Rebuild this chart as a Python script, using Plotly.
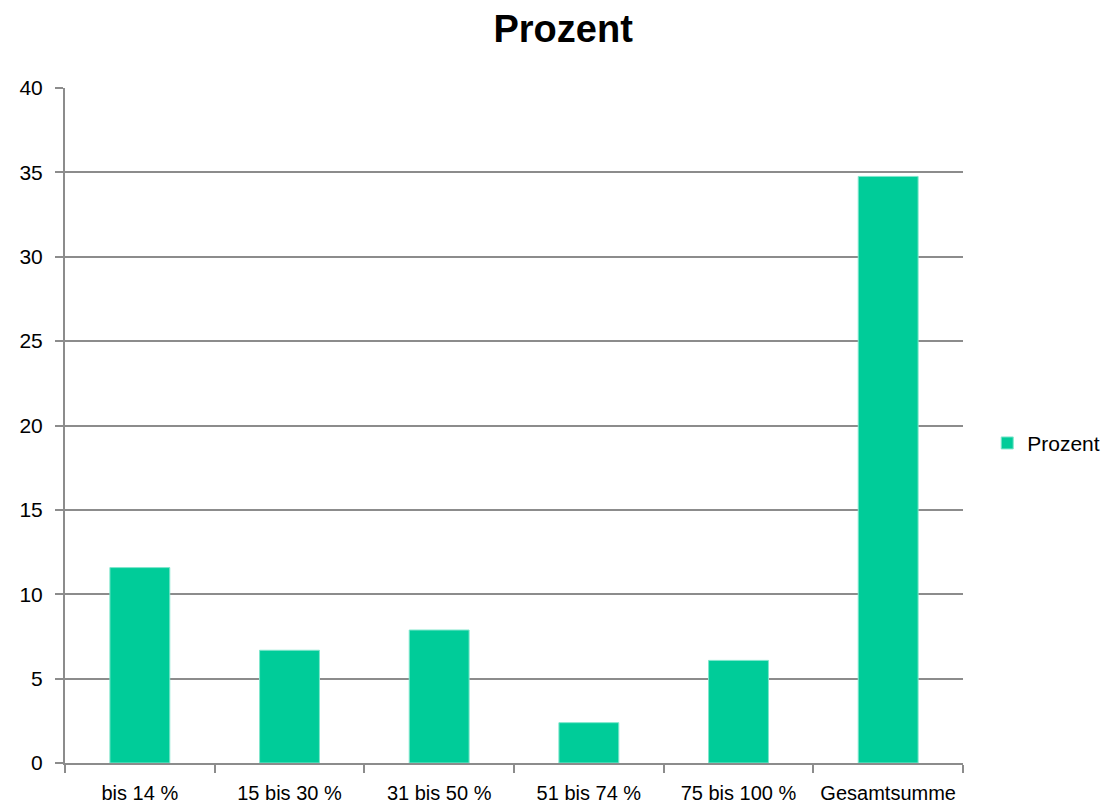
import plotly.graph_objects as go

categories = ["bis 14 %", "15 bis 30 %", "31 bis 50 %", "51 bis 74 %", "75 bis 100 %", "Gesamtsumme"]
prozent = [11.58, 6.68, 7.88, 2.39, 6.08, 34.76]
y_ticks = [0, 5, 10, 15, 20, 25, 30, 35, 40]

FONT = "Liberation Sans Narrow, Arial Narrow, Liberation Sans, Arial, sans-serif"
GRID = "#8c8c8c"

fig = go.Figure(
    go.Bar(
        x=categories,
        y=prozent,
        name="Prozent",
        marker=dict(color="#00cc99", line=dict(color="#7fe6cc", width=1)),
        showlegend=True,
    )
)

fig.update_layout(
    width=1113,
    height=806,
    paper_bgcolor="white",
    plot_bgcolor="white",
    margin=dict(l=65, r=150, t=88, b=43, autoexpand=False),
    bargap=0.6,
    font=dict(family=FONT, size=21, color="#000000"),
    title=dict(
        text="<b>Prozent</b>",
        x=0.506,
        xanchor="center",
        y=0.964,
        yanchor="middle",
        font=dict(family=FONT, size=38, color="#000000"),
    ),
    legend=dict(
        xref="container",
        yref="container",
        x=0.887,
        xanchor="left",
        y=0.45,
        yanchor="middle",
        font=dict(family=FONT, size=21),
        itemwidth=30,
    ),
)

fig.update_xaxes(
    showline=True,
    linecolor=GRID,
    linewidth=2,
    ticks="outside",
    tickson="boundaries",
    ticklen=8,
    tickcolor=GRID,
    tickwidth=2,
    tickangle=0,
    ticklabelstandoff=11,
    showgrid=False,
    tickfont=dict(family=FONT, size=20),
)

fig.update_yaxes(
    range=[0, 40],
    tickvals=y_ticks,
    showline=True,
    linecolor=GRID,
    linewidth=2,
    ticks="outside",
    ticklen=8,
    tickcolor=GRID,
    tickwidth=2,
    ticklabelstandoff=8,
    showgrid=True,
    gridcolor=GRID,
    gridwidth=2,
    zeroline=False,
    tickfont=dict(family=FONT, size=21),
)

fig.write_html("out.html")
